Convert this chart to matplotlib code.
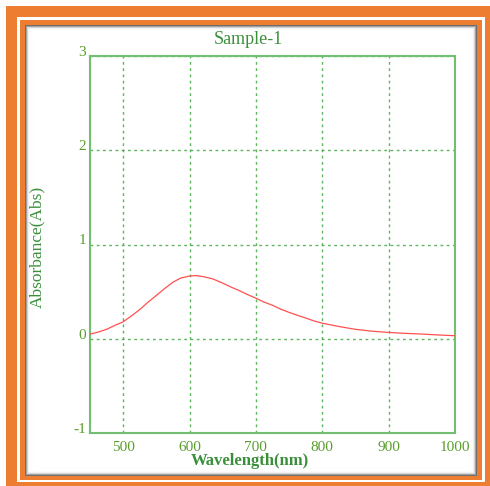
import matplotlib
matplotlib.use("Agg")
import matplotlib.pyplot as plt
import matplotlib.patches as mpatches

plt.rcParams["axes.unicode_minus"] = False

# Spectrum
wavelength = [450, 462, 475, 487, 500, 512, 525, 537, 550, 562, 575, 587, 600,
              610, 620, 635, 650, 662, 675, 687, 700, 712, 725, 737, 750, 762,
              775, 787, 800, 825, 850, 875, 900, 925, 950, 975, 1000]
absorbance = [0.05, 0.07, 0.10, 0.14, 0.18, 0.24, 0.31, 0.385, 0.46, 0.53, 0.60,
              0.645, 0.665, 0.67, 0.66, 0.635, 0.59, 0.55, 0.51, 0.47, 0.43,
              0.39, 0.355, 0.315, 0.28, 0.25, 0.22, 0.19, 0.165, 0.13, 0.10,
              0.08, 0.067, 0.057, 0.05, 0.04, 0.032]
x_ticks = [500, 600, 700, 800, 900, 1000]
y_ticks = [-1, 0, 1, 2, 3]

ORANGE = "#ed7d31"
SPINE = "#72bf72"
GRID = "#4cad4c"
TEXT = "#5a9e2e"
LABEL = "#3a8f3a"
LINE = "#ff5050"
SERIF = ["Liberation Serif", "DejaVu Serif"]

W, H = 490, 486
fig = plt.figure(figsize=(W / 100, H / 100), dpi=100, facecolor="white")

# Frame drawn in pixel coords
bg = fig.add_axes([0, 0, 1, 1], zorder=0)
bg.set_xlim(0, W)
bg.set_ylim(H, 0)
bg.axis("off")


def rect(x0, y0, x1, y1, color, z=0, alpha=1.0):
    bg.add_patch(mpatches.Rectangle((x0, y0), x1 - x0, y1 - y0,
                                    facecolor=color, edgecolor="none",
                                    alpha=alpha, zorder=z))


rect(6, 6, 490, 487, ORANGE, 0)
rect(17, 17, 485, 482, "white", 1)
rect(20, 20, 482, 480, ORANGE, 2)
rect(25, 25, 477, 476, "#6e6e6e", 3)
# soft inner shadow
for i, a in enumerate([0.35, 0.55, 0.68, 0.78, 0.86, 0.92, 0.96, 0.985]):
    rect(26 + i, 26 + i, 476 - i, 475 - i, "white", 4 + i, alpha=a)
rect(34, 34, 468, 467, "white", 13)

ax = fig.add_axes([90 / W, 1 - 433 / H, 365 / W, 377 / H], zorder=2)
ax.set_facecolor("white")
ax.plot(wavelength, absorbance, color=LINE, linewidth=0.9, zorder=3)

ax.set_xlim(450, 1000)
ax.set_ylim(-1, 3)
ax.set_xticks(x_ticks)
ax.set_yticks(y_ticks)
ax.grid(True, color=GRID, linestyle=(0, (2, 2.5)), linewidth=1.0, alpha=0.9)
ax.tick_params(length=0, labelcolor=TEXT, labelsize=11)
ax.tick_params(axis="x", pad=6)
ax.tick_params(axis="y", pad=3)
for lab in ax.get_xticklabels() + ax.get_yticklabels():
    lab.set_fontfamily(SERIF)
for lab in ax.get_yticklabels():
    lab.set_verticalalignment("baseline")
for s in ax.spines.values():
    s.set_color(SPINE)
    s.set_linewidth(1.5)

# title and x label sit centred on the frame, not on the axes
fig.text(248 / W, 1 - 40 / H, "Sample-1", color=LABEL, fontsize=13,
         family=SERIF, ha="center", va="center")
fig.text(250 / W, 1 - 461 / H, "Wavelength(nm)", color=LABEL, fontsize=12,
         family=SERIF, fontweight="bold", ha="center", va="center")
fig.text(37 / W, 1 - 247 / H, "Absorbance(Abs)", color=LABEL, fontsize=12.5,
         family=SERIF, rotation=90, ha="center", va="center")

fig.savefig("out.png", dpi=100, facecolor="white")
